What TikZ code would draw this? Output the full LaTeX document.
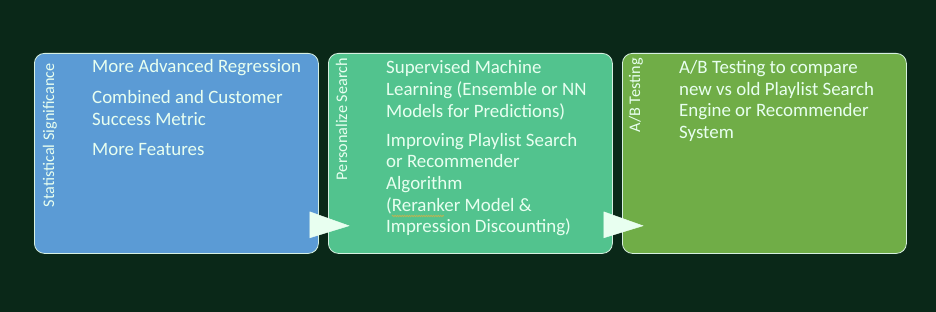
\documentclass[tikz,border=0pt]{standalone}
\usepackage{fontspec}
\setmainfont{Carlito}
\usetikzlibrary{calc,decorations.pathmorphing}

\definecolor{bgdark}{RGB}{10,40,24}
\definecolor{stageblue}{RGB}{91,155,213}
\definecolor{stageteal}{RGB}{82,195,142}
\definecolor{stagegreen}{RGB}{112,173,71}
\definecolor{mint}{RGB}{232,255,240}
\definecolor{edge}{RGB}{215,240,225}
\definecolor{squiggle}{RGB}{185,180,85}

\tikzset{
  stagebox/.style={draw=edge, line width=0.8pt, rounded corners=10pt,
    minimum width=284pt, minimum height=200pt, anchor=north west, inner sep=0pt},
  sidelabel/.style={rotate=90, anchor=base east, inner sep=0pt, text=mint,
    font=\fontsize{16.2}{18}\selectfont},
  item/.style={anchor=base west, inner sep=0pt, text=mint,
    font=\fontsize{18.9}{22}\selectfont},
  chevron/.style={fill=mint, draw=mint!80!white, line width=0.4pt}
}

\begin{document}
\begin{tikzpicture}[x=1pt,y=-1pt]
  \fill[bgdark] (0,0) rectangle (936,312);
  \useasboundingbox (0,0) rectangle (936,312);

  % the three stages
  \node[stagebox, fill=stageblue]  (b1) at (34,53)  {};
  \node[stagebox, fill=stageteal]  (b2) at (328,53) {};
  \node[stagebox, fill=stagegreen] (b3) at (622,53) {};

  % rotated stage titles
  \node[sidelabel] (l1) at (54,63)  {Statistical Significance};
  \node[sidelabel] (l2) at (347,58) {Personalize Search};
  \node[sidelabel] (l3) at (640,58) {A/B Testing};

  % stage 1 items
  \node[item] (s1a) at (92,73)  {More Advanced Regression};
  \node[item] (s1b) at (92,104) {Combined and Customer};
  \node[item] (s1c) at (92,126) {Success Metric};
  \node[item] (s1d) at (92,156) {More Features};

  % stage 2 items
  \node[item] (s2a) at (386,74)  {Supervised Machine};
  \node[item] (s2b) at (386,96)  {Learning (Ensemble or NN};
  \node[item] (s2c) at (386,118) {Models for Predictions)};
  \node[item] (s2d) at (386,147) {Improving Playlist Search};
  \node[item] (s2e) at (386,168) {or Recommender};
  \node[item] (s2f) at (386,190) {Algorithm};
  \node[item] (s2g) at (386,212) {(Reranker Model \&};
  \node[item] (s2h) at (386,233) {Impression Discounting)};
  \draw[squiggle, line width=0.8pt, decorate,
        decoration={snake, amplitude=0.7pt, segment length=2.4pt}]
    (392,216) -- (444,216);

  % stage 3 items
  \node[item] (s3a) at (679,74)  {A/B Testing to compare};
  \node[item] (s3b) at (679,96)  {new vs old Playlist Search};
  \node[item] (s3c) at (679,117) {Engine or Recommender};
  \node[item] (s3d) at (679,139) {System};

  % chevrons linking the stages
  \path[chevron] ($(b1.south east)+(-9,-42)$) -- ($(b1.south east)+(-9,-16)$)
    -- ($(b2.south west)+(21,-28)$) -- cycle;
  \path[chevron] ($(b2.south east)+(-9,-42)$) -- ($(b2.south east)+(-9,-16)$)
    -- ($(b3.south west)+(21,-28)$) -- cycle;
\end{tikzpicture}
\end{document}
